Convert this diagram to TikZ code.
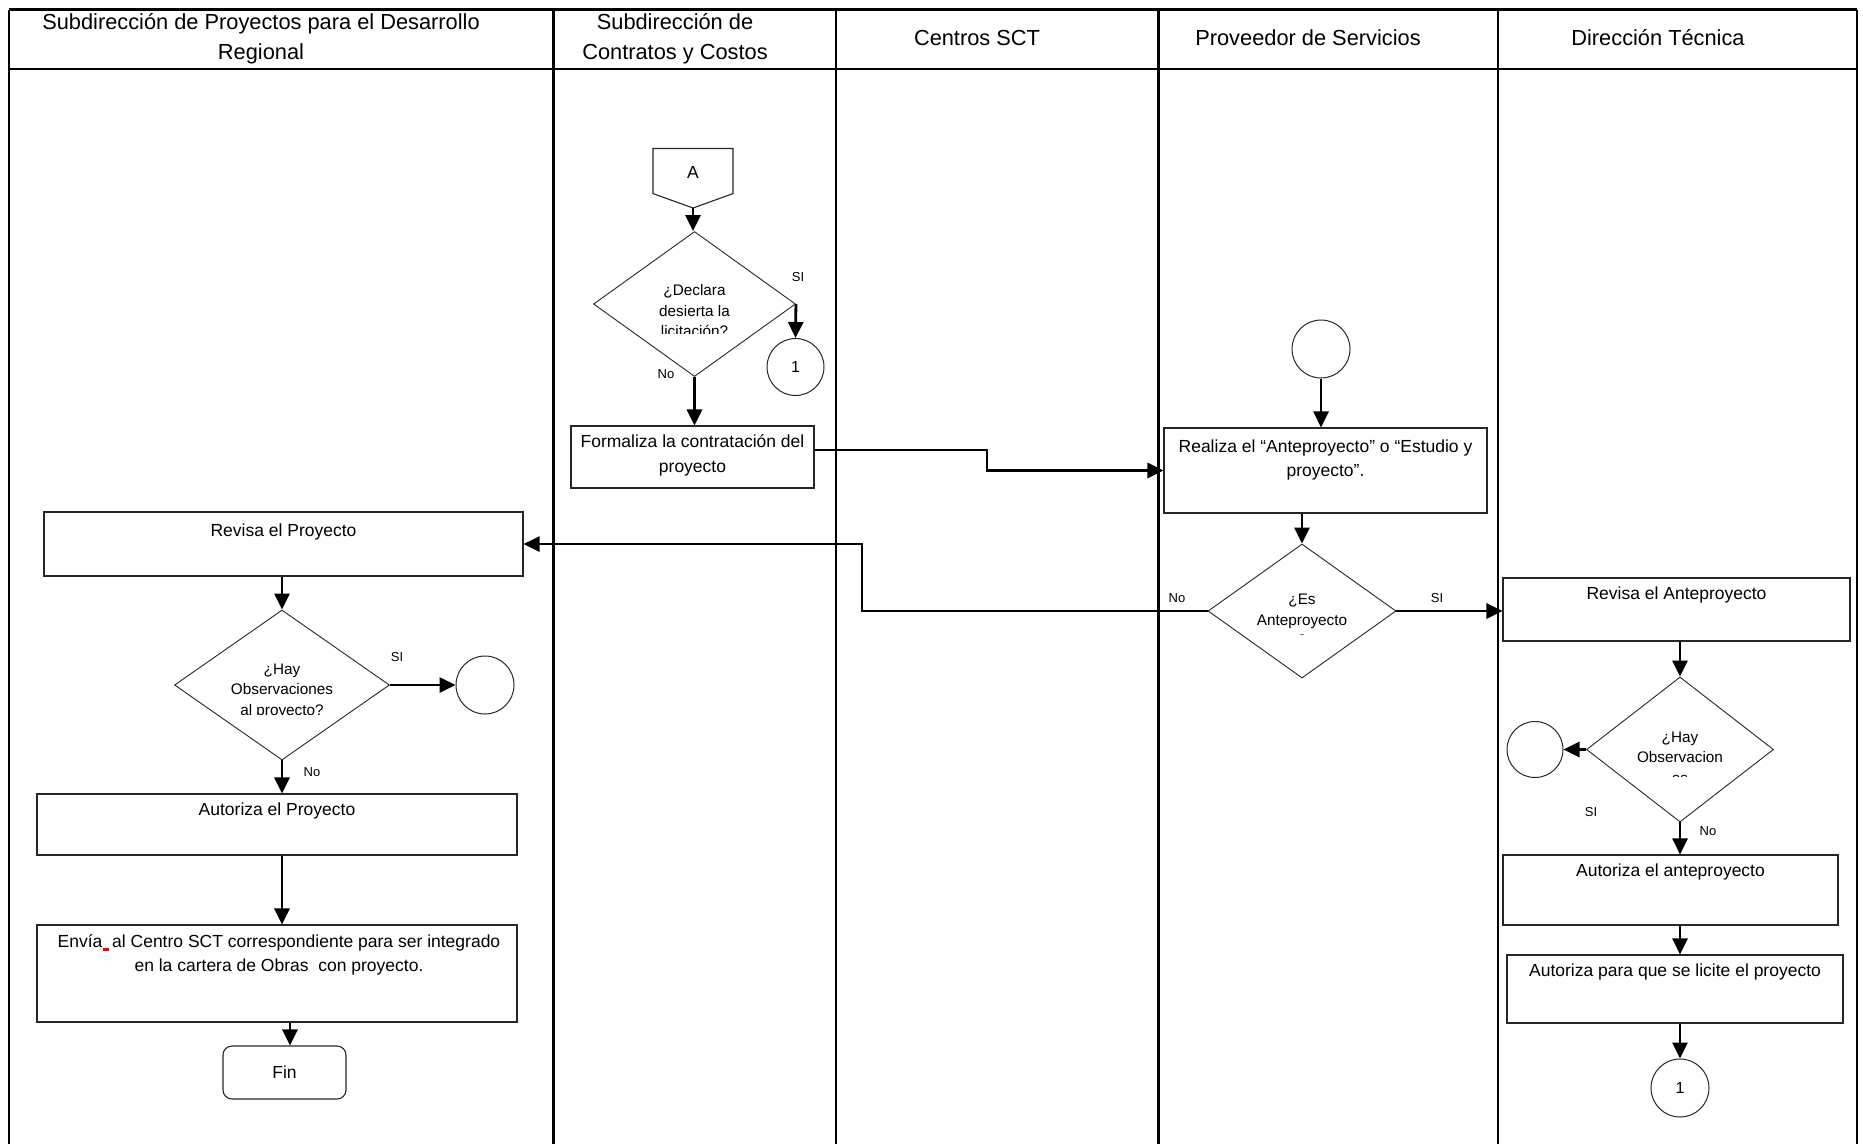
\documentclass[tikz,border=0pt]{standalone}
\usepackage{fontspec}
\setmainfont{Liberation Sans}
\usetikzlibrary{shapes.geometric,arrows.meta}
\begin{document}
\begin{tikzpicture}[x=1pt,y=-1pt,
  lane/.style={line width=2.2pt},
  box/.style={draw=black!85, line width=1.1pt, inner sep=0pt},
  dia/.style={draw=black!85, line width=0.9pt, shape=diamond, inner sep=0pt},
  circ/.style={draw=black!85, line width=1pt, circle, inner sep=0pt, minimum size=#1},
  htext/.style={font=\fontsize{21.8}{29.7}\selectfont, align=center, inner sep=0pt},
  btext/.style={font=\fontsize{17.5}{24.5}\selectfont, align=center, inner sep=0pt},
  dtext/.style={font=\fontsize{15.3}{20.5}\selectfont, align=center, inner sep=0pt},
  lbl/.style={font=\fontsize{13}{15}\selectfont, inner sep=0pt},
  arr/.style={line width=2.8pt, -{Triangle[length=16pt,width=15pt]}}
]
\useasboundingbox (0,0) rectangle (1863,1144);
% ---- lanes ----
\draw[lane] (9,9.5) -- (1857,9.5);
\draw[lane] (9,69) -- (1857,69);
\foreach \x in {9,553.5,836,1158.5,1498,1857} \draw[lane] (\x,9.5) -- (\x,1144);
\node[htext] (h1) at (261,38.6) {Subdirección de Proyectos para el Desarrollo\\Regional};
\node[htext] (h2) at (675,38.6) {Subdirección de\\Contratos y Costos};
\node[htext] (h3) at (977,38) {Centros SCT};
\node[htext] (h4) at (1308,38) {Proveedor de Servicios};
\node[htext] (h5) at (1658,38) {Dirección Técnica};

% ---- Subdirección de Contratos y Costos ----
\draw[box] (653,148.5) -- (733,148.5) -- (733,193.6) -- (693,208) -- (653,193.6) -- cycle;
\node[btext] (Al) at (693,172) {A};
\coordinate (As) at (693,208);
\node[dia, minimum width=202pt, minimum height=145pt] (D1) at (694.5,304) {};
\begin{scope}
\clip (590,220) rectangle (800,333.5);
\node[dtext] (D1t) at (694.5,311) {¿Declara\\desierta la\\licitación?};
\end{scope}
\node[lbl] (D1si) at (798,277) {SI};
\node[lbl] (D1no) at (666,374) {No};
\node[circ=57pt, font=\fontsize{16}{18}\selectfont] (c1) at (795.5,367) {1};
\node[box, minimum width=243pt, minimum height=62pt] (F) at (692.5,457) {};
\node[btext] (Ft) at (692.5,455.5) {Formaliza la contratación del\\proyecto};

% ---- Proveedor de Servicios ----
\node[circ=58pt] (s) at (1321,349) {};
\node[box, minimum width=323pt, minimum height=85pt] (R) at (1325.5,470.5) {};
\node[btext] (Rt) at (1325.5,460) {Realiza el “Anteproyecto” o “Estudio y\\proyecto”.};
\node[dia, minimum width=188pt, minimum height=134pt] (D2) at (1302,611) {};
\begin{scope}
\clip (1200,540) rectangle (1400,634);
\node[dtext] (D2t) at (1302,620) {¿Es\\Anteproyecto\\?};
\end{scope}
\node[lbl] (D2no) at (1177,598) {No};
\node[lbl] (D2si) at (1437,598) {SI};

% ---- Subdirección de Proyectos para el Desarrollo Regional ----
\node[box, minimum width=479pt, minimum height=64pt] (RP) at (283.5,544) {};
\node[btext] (RPt) at (283.5,532) {Revisa el Proyecto};
\node[dia, minimum width=215pt, minimum height=150pt] (D3) at (282,685) {};
\begin{scope}
\clip (170,600) rectangle (395,714);
\node[dtext] (D3t) at (282,691) {¿Hay\\Observaciones\\al proyecto?};
\end{scope}
\node[lbl] (D3si) at (397,657) {SI};
\node[lbl] (D3no) at (312,772) {No};
\node[circ=58pt] (c3) at (485,685) {};
\node[box, minimum width=480pt, minimum height=61pt] (AP) at (277,824.5) {};
\node[btext] (APt) at (277,811) {Autoriza el Proyecto};
\node[box, minimum width=480pt, minimum height=97pt] (EN) at (277,973.5) {};
\node[btext] (ENt) at (279,955) {Envía\ \ al Centro SCT correspondiente para ser integrado\\en la cartera de Obras\ \ con proyecto.};
\fill[red] (103,947.5) rectangle (109,950.5);
\node[box, rounded corners=9pt, minimum width=123pt, minimum height=53pt] (Fin) at (284.5,1072.5) {};
\node[btext] (Fint) at (284.5,1072) {Fin};

% ---- Dirección Técnica ----
\node[box, minimum width=347pt, minimum height=63pt] (RA) at (1676.5,609.5) {};
\node[btext] (RAt) at (1676.5,595) {Revisa el Anteproyecto};
\node[dia, minimum width=187pt, minimum height=145pt] (D4) at (1680,749.5) {};
\begin{scope}
\clip (1580,670) rectangle (1780,776);
\node[dtext] (D4t) at (1680,757.5) {¿Hay\\Observacion\\es};
\end{scope}
\begin{scope}
\clip (1570,790) rectangle (1615,816);
\node[lbl] (D4si) at (1591,812.5) {SI};
\end{scope}
\node[lbl] (D4no) at (1708,831) {No};
\node[circ=56pt] (c4) at (1535,749.5) {};
\node[box, minimum width=335pt, minimum height=70pt] (AA) at (1670.5,890) {};
\node[btext] (AAt) at (1670.5,872) {Autoriza el anteproyecto};
\node[box, minimum width=336pt, minimum height=68pt] (AP2) at (1675,989) {};
\node[btext] (AP2t) at (1675,972) {Autoriza para que se licite el proyecto};
\node[circ=58pt, font=\fontsize{16}{18}\selectfont] (c5) at (1680,1088) {1};

% ---- connectors ----
\coordinate (k0) at (987,0);
\coordinate (k1) at (862,544);
\coordinate (k2) at (290,0);
\draw[arr] (As) -- (As |- D1.north);
\draw[arr] (D1.east) -- (c1.north);
\draw[arr] (D1.south) -- (D1.south |- F.north);
\draw[arr] ([yshift=7pt]F.east) -| (k0 |- R.west) -- (R.west);
\draw[arr] (s.south) -- (s.south |- R.north);
\draw[arr] (D2.north |- R.south) -- (D2.north);
\draw[arr] (D2.east) -- (D2.east -| RA.west);
\draw[arr] (D2.west) -| (k1) -- (k1 -| RP.east);
\draw[arr] (D3.north |- RP.south) -- (D3.north);
\draw[arr] (D3.east) -- (c3.west);
\draw[arr] (D3.south) -- (D3.south |- AP.north);
\draw[arr] (D3.south |- AP.south) -- (D3.south |- EN.north);
\draw[arr] (k2 |- EN.south) -- (k2 |- Fin.north);
\draw[arr] (D4.north |- RA.south) -- (D4.north);
\draw[arr] (D4.west) -- (c4.east);
\draw[arr] (D4.south) -- (D4.south |- AA.north);
\draw[arr] (D4.south |- AA.south) -- (D4.south |- AP2.north);
\draw[arr] (D4.south |- AP2.south) -- (D4.south |- c5.north);
\end{tikzpicture}
\end{document}
